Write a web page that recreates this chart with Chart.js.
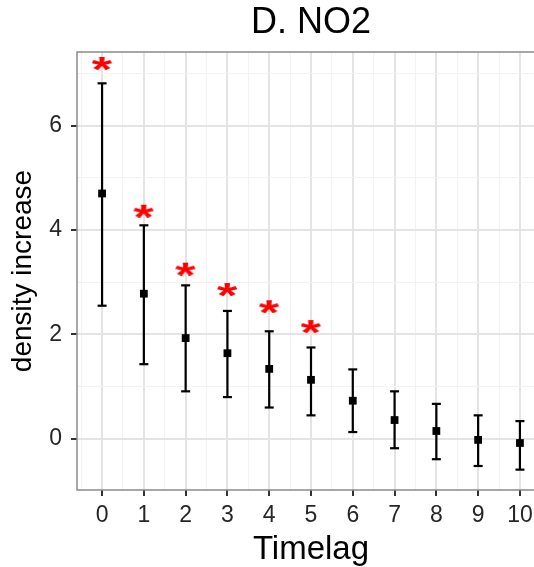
<!DOCTYPE html>
<html>
<head>
<meta charset="utf-8">
<script src="https://cdn.jsdelivr.net/npm/chart.js@4/dist/chart.umd.min.js"></script>
<style>
  html, body { margin: 0; padding: 0; background: #fff; overflow: hidden; }
  canvas { display: block; }
</style>
</head>
<body>
<canvas id="grafico" width="622" height="567"></canvas>
<script>
// valores
const lags = [0, 1, 2, 3, 4, 5, 6, 7, 8, 9, 10];
const means = [4.70, 2.78, 1.93, 1.64, 1.34, 1.13, 0.73, 0.36, 0.15, -0.02, -0.08];
const upper = [6.81, 4.09, 2.94, 2.45, 2.06, 1.75, 1.33, 0.91, 0.67, 0.45, 0.34];
const lower = [2.55, 1.43, 0.91, 0.80, 0.60, 0.45, 0.13, -0.18, -0.39, -0.52, -0.59];
const starLags = [0, 1, 2, 3, 4, 5];
const starY = [7.20, 4.37, 3.26, 2.87, 2.54, 2.16];

const xGrid = [-0.5, 0, 0.5, 1, 1.5, 2, 2.5, 3, 3.5, 4, 4.5, 5, 5.5, 6, 6.5, 7, 7.5, 8, 8.5, 9, 9.5, 10, 10.5];
const xLabels = [0, 1, 2, 3, 4, 5, 6, 7, 8, 9, 10];
const yGrid = [0, 1, 2, 3, 4, 5, 6, 7];
const yLabels = [0, 2, 4, 6];

const FONT = '"Liberation Sans", Arial, sans-serif';

// barras de erro: pares inferior/superior separados por null
const whiskers = [];
lags.forEach((lag, i) => {
    whiskers.push({ x: lag, y: lower[i] }, { x: lag, y: upper[i] }, { x: lag, y: null });
});

// asterisco vermelho como imagem de ponto
const starImg = (() => {
    const c = document.createElement('canvas');
    c.width = 21;
    c.height = 14;
    const g = c.getContext('2d');
    g.font = 'bold 40px ' + FONT;
    const m = g.measureText('*');
    const w = m.actualBoundingBoxLeft + m.actualBoundingBoxRight;
    const h = m.actualBoundingBoxAscent + m.actualBoundingBoxDescent;
    g.fillStyle = '#ff0000';
    g.scale(c.width / w, c.height / h);
    g.fillText('*', m.actualBoundingBoxLeft, m.actualBoundingBoxAscent);
    return c;
})();

const panelBorder = {
    id: 'panelBorder',
    afterDraw(chart) {
        const { ctx, chartArea: a } = chart;
        ctx.save();
        ctx.strokeStyle = '#8a8a8a';
        ctx.lineWidth = 1.5;
        ctx.strokeRect(a.left, a.top, a.right - a.left, a.bottom - a.top);
        ctx.restore();
    },
};

const isMajorX = v => xLabels.includes(v);
const isMajorY = v => yLabels.includes(v);

const ctx = document.getElementById('grafico').getContext('2d');

new Chart(ctx, {
    type: 'scatter',
    data: {
        datasets: [
            {
                label: 'intervalo',
                type: 'line',
                data: whiskers,
                showLine: true,
                spanGaps: false,
                borderColor: '#000',
                borderWidth: 2.2,
                pointStyle: 'line',
                pointRadius: 4.5,
                pointBorderWidth: 2.2,
                pointBorderColor: '#000',
            },
            {
                label: 'média',
                data: lags.map((lag, i) => ({ x: lag, y: means[i] })),
                pointStyle: 'rect',
                pointRadius: 5.5,
                borderWidth: 0,
                backgroundColor: '#000',
            },
            {
                label: 'significativo',
                data: starLags.map((lag, i) => ({ x: lag, y: starY[i] })),
                pointStyle: starImg,
                pointRadius: 10,
            },
        ],
    },
    options: {
        responsive: false,
        animation: false,
        layout: { padding: 0 },
        plugins: {
            legend: { display: false },
            tooltip: { enabled: false },
            title: {
                display: true,
                text: 'D. NO2',
                color: '#000',
                font: { family: FONT, size: 36, weight: 'normal', lineHeight: 1.2 },
                padding: { top: 1, bottom: 7.8 },
            },
        },
        scales: {
            x: {
                type: 'linear',
                min: -0.6,
                max: 10.6,
                afterBuildTicks: s => { s.ticks = xGrid.map(v => ({ value: v })); },
                afterFit: s => { s.height = 77; },
                border: { display: false },
                grid: {
                    color: c => isMajorX(c.tick.value) ? '#e4e4e4' : '#f2f2f2',
                    lineWidth: c => isMajorX(c.tick.value) ? 2 : 1,
                    tickColor: c => isMajorX(c.tick.value) ? '#333' : 'rgba(0,0,0,0)',
                    tickWidth: 2,
                    tickLength: 6,
                },
                ticks: {
                    autoSkip: false,
                    maxRotation: 0,
                    padding: 6,
                    color: '#262626',
                    font: { family: FONT, size: 23 },
                    callback: v => isMajorX(v) ? String(v) : '',
                },
                title: {
                    display: true,
                    text: 'Timelag',
                    color: '#000',
                    font: { family: FONT, size: 33, lineHeight: 1 },
                    padding: { top: 0, bottom: 1 },
                },
            },
            y: {
                type: 'linear',
                min: -0.98,
                max: 7.41,
                afterBuildTicks: s => { s.ticks = yGrid.map(v => ({ value: v })); },
                afterFit: s => { s.width = 77; },
                border: { display: false },
                grid: {
                    color: c => isMajorY(c.tick.value) ? '#e4e4e4' : '#f2f2f2',
                    lineWidth: c => isMajorY(c.tick.value) ? 2 : 1,
                    tickColor: c => isMajorY(c.tick.value) ? '#333' : 'rgba(0,0,0,0)',
                    tickWidth: 2,
                    tickLength: 6,
                },
                ticks: {
                    padding: 9,
                    color: '#262626',
                    font: { family: FONT, size: 23 },
                    callback: v => isMajorY(v) ? String(v) : '',
                },
                title: {
                    display: true,
                    text: 'density increase',
                    color: '#000',
                    font: { family: FONT, size: 28, lineHeight: 1.2 },
                    padding: { top: 6.5, bottom: 0 },
                },
            },
            // eixo vazio à direita para centrar o título sobre o painel
            y2: {
                type: 'linear',
                position: 'right',
                display: true,
                afterFit: s => { s.width = 77; },
                border: { display: false },
                grid: { display: false },
                ticks: { display: false },
            },
        },
    },
    plugins: [panelBorder],
});
</script>
</body>
</html>
